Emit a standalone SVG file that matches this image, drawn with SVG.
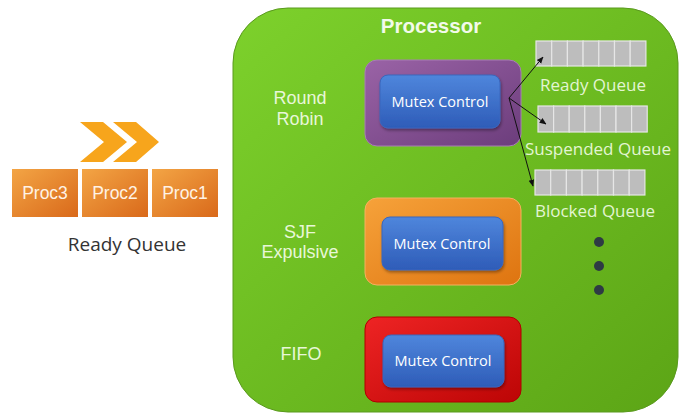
<svg xmlns="http://www.w3.org/2000/svg" width="681" height="415" viewBox="0 0 681 415">
<defs>
<linearGradient id="gGreen" x1="0" y1="0" x2="1" y2="1"><stop offset="0" stop-color="#7DD12C"/><stop offset="1" stop-color="#5CA516"/></linearGradient>
<linearGradient id="gProc" x1="0" y1="0" x2="1" y2="1"><stop offset="0" stop-color="#F3A545"/><stop offset="1" stop-color="#D9691A"/></linearGradient>
<linearGradient id="gPurple" x1="0" y1="0" x2="1" y2="1"><stop offset="0" stop-color="#9A63A6"/><stop offset="1" stop-color="#6C3D7C"/></linearGradient>
<linearGradient id="gOrange" x1="0" y1="0" x2="1" y2="1"><stop offset="0" stop-color="#F6A23A"/><stop offset="1" stop-color="#DE7410"/></linearGradient>
<linearGradient id="gRed" x1="0" y1="0" x2="1" y2="1"><stop offset="0" stop-color="#EE2424"/><stop offset="1" stop-color="#BC0505"/></linearGradient>
<linearGradient id="gBlue" x1="0" y1="0" x2="0" y2="1"><stop offset="0" stop-color="#4F86DC"/><stop offset="1" stop-color="#2E5CB8"/></linearGradient>
<marker id="ah" viewBox="0 0 10 10" refX="9" refY="5" markerWidth="7" markerHeight="7" orient="auto-start-reverse"><path d="M0,1 L10,5 L0,9 Z" fill="#111"/></marker>
<filter id="sh" x="-10%" y="-10%" width="130%" height="140%"><feDropShadow dx="1" dy="2" stdDeviation="1.5" flood-color="#000" flood-opacity="0.35"/></filter>
</defs>
<style>
.proc{fill:url(#gProc)}
.proct{font-family:"Liberation Sans",Arial,sans-serif;font-size:17.5px;fill:#FFF3E6;text-anchor:middle}
.lbl{font-family:"Liberation Sans",Arial,sans-serif;font-size:18px;fill:#E8F7D8;text-anchor:middle}
.qlbl{font-family:"Open Sans","Noto Sans",sans-serif;font-size:17px;fill:#E3F5D2;text-anchor:middle}
.mutex{fill:url(#gBlue);stroke:#3A66BC;stroke-width:1}
.mt{font-family:"Open Sans","Noto Sans",sans-serif;font-size:14.5px;fill:#FFFFFF;text-anchor:middle}
.cell{fill:#BDBDBD;stroke:#E6E6E6;stroke-width:1.2}
.conn{stroke:#111;stroke-width:1;fill:none;marker-end:url(#ah)}
.dot{fill:#2E3A44}
</style>
<rect width="681" height="415" fill="#FFFFFF"/>

<g id="chevrons" fill="#F7A51C">
<polygon points="80,122 103,122 127,142 103,162 80,162 104,142"/>
<polygon points="113,122 136,122 159,142 136,162 113,162 137,142"/>
</g>
<g id="proc3"><rect class="proc" x="12" y="169" width="66" height="48"/><text class="proct" x="45" y="199">Proc3</text></g>
<g id="proc2"><rect class="proc" x="82" y="169" width="66" height="48"/><text class="proct" x="115" y="199">Proc2</text></g>
<g id="proc1"><rect class="proc" x="152" y="169" width="66" height="48"/><text class="proct" x="185" y="199">Proc1</text></g>
<text id="readyQueueLabel" x="127" y="251" font-family="'Open Sans','Noto Sans',sans-serif" font-size="19" fill="#333333" text-anchor="middle">Ready Queue</text>

<g id="processor">
<rect x="233" y="8" width="445" height="404" rx="55" ry="55" fill="url(#gGreen)" stroke="#5A9A1E" stroke-width="1"/>
<text x="431" y="33" font-family="'Liberation Sans',Arial,sans-serif" font-size="20.5" font-weight="bold" fill="#F2FAEA" text-anchor="middle">Processor</text>
</g>

<g id="roundRobin">
<text class="lbl" x="300" y="104">Round</text>
<text class="lbl" x="300" y="125">Robin</text>
<rect x="365" y="60" width="156" height="86" rx="12" fill="url(#gPurple)" stroke="#A97DB5" stroke-width="1"/>
<rect class="mutex" x="380" y="75" width="120" height="53" rx="8" filter="url(#sh)"/>
<text class="mt" x="440" y="107">Mutex Control</text>
</g>

<g id="sjf">
<text class="lbl" x="300" y="238">SJF</text>
<text class="lbl" x="300" y="258">Expulsive</text>
<rect x="365" y="198" width="156" height="87" rx="12" fill="url(#gOrange)" stroke="#F5B160" stroke-width="1"/>
<rect class="mutex" x="382" y="217" width="121" height="53" rx="8" filter="url(#sh)"/>
<text class="mt" x="442" y="249">Mutex Control</text>
</g>

<g id="fifo">
<text class="lbl" x="301" y="360">FIFO</text>
<rect x="365" y="317" width="156" height="85" rx="12" fill="url(#gRed)" stroke="#B00000" stroke-width="1"/>
<rect class="mutex" x="383" y="335" width="121" height="52" rx="8" filter="url(#sh)"/>
<text class="mt" x="443" y="366">Mutex Control</text>
</g>

<g id="readyQueue">
<rect class="cell" x="536" y="41" width="15.7" height="25"/><rect class="cell" x="551.7" y="41" width="15.7" height="25"/><rect class="cell" x="567.4" y="41" width="15.7" height="25"/><rect class="cell" x="583.1" y="41" width="15.7" height="25"/><rect class="cell" x="598.8" y="41" width="15.7" height="25"/><rect class="cell" x="614.5" y="41" width="15.7" height="25"/><rect class="cell" x="630.2" y="41" width="15.7" height="25"/>
<text class="qlbl" x="593" y="91">Ready Queue</text>
</g>
<g id="suspendedQueue">
<rect class="cell" x="538" y="106" width="15.6" height="26"/><rect class="cell" x="553.6" y="106" width="15.6" height="26"/><rect class="cell" x="569.2" y="106" width="15.6" height="26"/><rect class="cell" x="584.8" y="106" width="15.6" height="26"/><rect class="cell" x="600.4" y="106" width="15.6" height="26"/><rect class="cell" x="616" y="106" width="15.6" height="26"/><rect class="cell" x="631.6" y="106" width="15.6" height="26"/>
<text class="qlbl" x="598" y="155">Suspended Queue</text>
</g>
<g id="blockedQueue">
<rect class="cell" x="535" y="170" width="15.7" height="25"/><rect class="cell" x="550.7" y="170" width="15.7" height="25"/><rect class="cell" x="566.4" y="170" width="15.7" height="25"/><rect class="cell" x="582.1" y="170" width="15.7" height="25"/><rect class="cell" x="597.8" y="170" width="15.7" height="25"/><rect class="cell" x="613.5" y="170" width="15.7" height="25"/><rect class="cell" x="629.2" y="170" width="15.7" height="25"/>
<text class="qlbl" x="595" y="217">Blocked Queue</text>
</g>
<g id="more">
<circle class="dot" cx="599" cy="242" r="5"/>
<circle class="dot" cx="599" cy="266" r="5"/>
<circle class="dot" cx="599" cy="290" r="5"/>
</g>

<g id="connectors">
<line class="conn" x1="509" y1="98" x2="543" y2="57"/>
<line class="conn" x1="509" y1="98" x2="546" y2="124"/>
<line class="conn" x1="509" y1="98" x2="533" y2="186"/>
</g>
</svg>
